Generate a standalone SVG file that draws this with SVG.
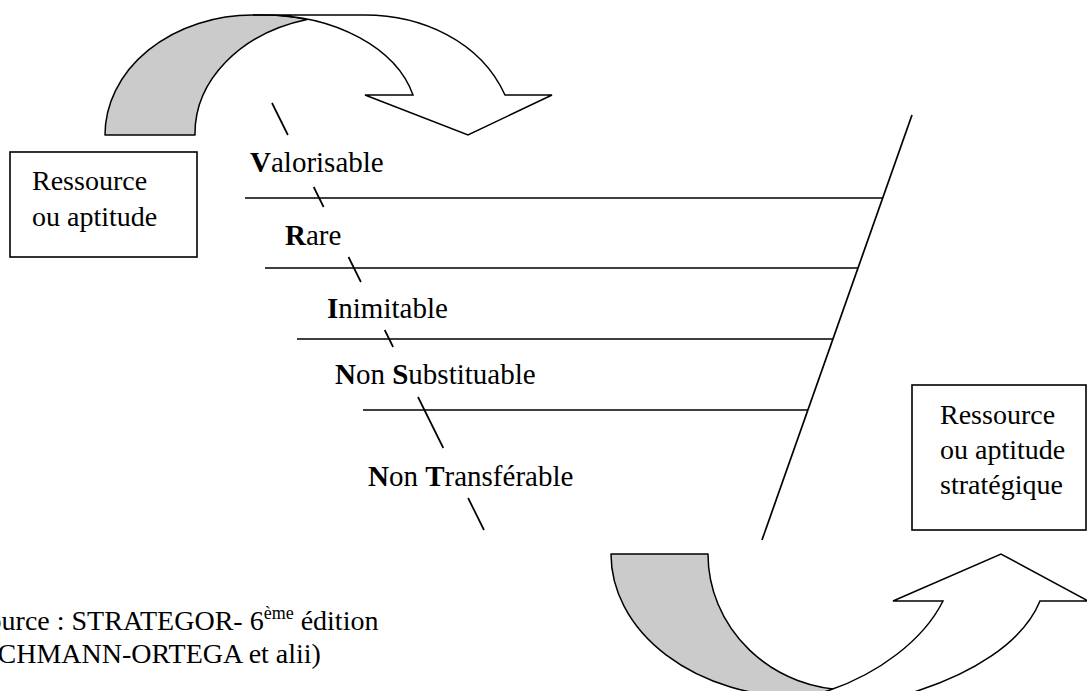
<svg xmlns="http://www.w3.org/2000/svg" width="1087" height="691" viewBox="0 0 1087 691">
<style>
.ln{stroke:#000;stroke-width:1.7;fill:none}
.box{fill:#fff;stroke:#000;stroke-width:1.6}
.back{fill:#cbcbcb;stroke:#000;stroke-width:1.5;stroke-linejoin:round}
.front{fill:#fff;stroke:#000;stroke-width:1.5;stroke-linejoin:miter}
text{font-family:"Liberation Serif","Times New Roman",serif;fill:#000}
.lbl{font-size:29px}
.bt{font-size:28px}
.b{font-weight:bold}
</style>
<rect width="1087" height="691" fill="#fff"/>
<g id="arrow-top">
<path class="back" d="M105,135 A148,120 0 0 1 253,15 L265,15 A152.5,105 0 0 1 307,19.5 A150,118 0 0 0 195,135 Z"/>
<path class="front" d="M253,15 L365,15 C420,15 480,40 505,95 L552,95 L468,135 L365,95 L413,95 A152.5,105 0 0 0 265,15 Z"/>
</g>
<g id="arrow-bottom">
<path class="back" d="M611,554 A189,143 0 0 0 800,697 L850,697 L850,690 A142,136 0 0 1 708,554 Z"/>
<path class="front" d="M812,696 L830,690 C877,674 923,641 943,601 L893,601 L1001,554 L1088,601 L1040,601 C1022,645 967.5,674.5 920,690 L905,695 L900,710 L812,710 Z"/>
</g>
<g id="connectors">
<path class="ln" d="M912,115 L762,540"/>
<path class="ln" d="M245,198 L883,198 M265,268 L858,268 M297,339 L833,339 M363,410 L808,410"/>
<path class="ln" d="M272,103 L287.9,135 M313.7,187 L323.6,207 M348.5,257 L360.9,282 M384.7,330 L393.1,347 M418,397 L443.3,448 M468.1,498 L484,530"/>
</g>
<g id="node-ressource">
<rect class="box" x="10" y="152" width="187" height="105"/>
<text class="bt" x="32" y="190">Ressource</text>
<text class="bt" x="32" y="226">ou aptitude</text>
</g>
<g id="node-strategique">
<rect class="box" x="912" y="385" width="174" height="145"/>
<text class="bt" x="940" y="424">Ressource</text>
<text class="bt" x="940" y="459">ou aptitude</text>
<text class="bt" x="940" y="494">stratégique</text>
</g>
<g id="node-valorisable"><text class="lbl" x="250" y="172"><tspan class="b">V</tspan>alorisable</text></g>
<g id="node-rare"><text class="lbl" x="285" y="245"><tspan class="b">R</tspan>are</text></g>
<g id="node-inimitable"><text class="lbl" x="327" y="318"><tspan class="b">I</tspan>nimitable</text></g>
<g id="node-nonsubstituable"><text class="lbl" x="335" y="384"><tspan class="b">N</tspan>on <tspan class="b">S</tspan>ubstituable</text></g>
<g id="node-nontransferable"><text class="lbl" x="368" y="486"><tspan class="b">N</tspan>on <tspan class="b">T</tspan>ransférable</text></g>
<g id="source">
<text class="bt" x="-28" y="630">Source : STRATEGOR- 6<tspan font-size="18" dy="-11">ème</tspan><tspan dy="11"> édition</tspan></text>
<text class="bt" x="-46" y="663">(LECHMANN-ORTEGA et alii)</text>
</g>
</svg>
